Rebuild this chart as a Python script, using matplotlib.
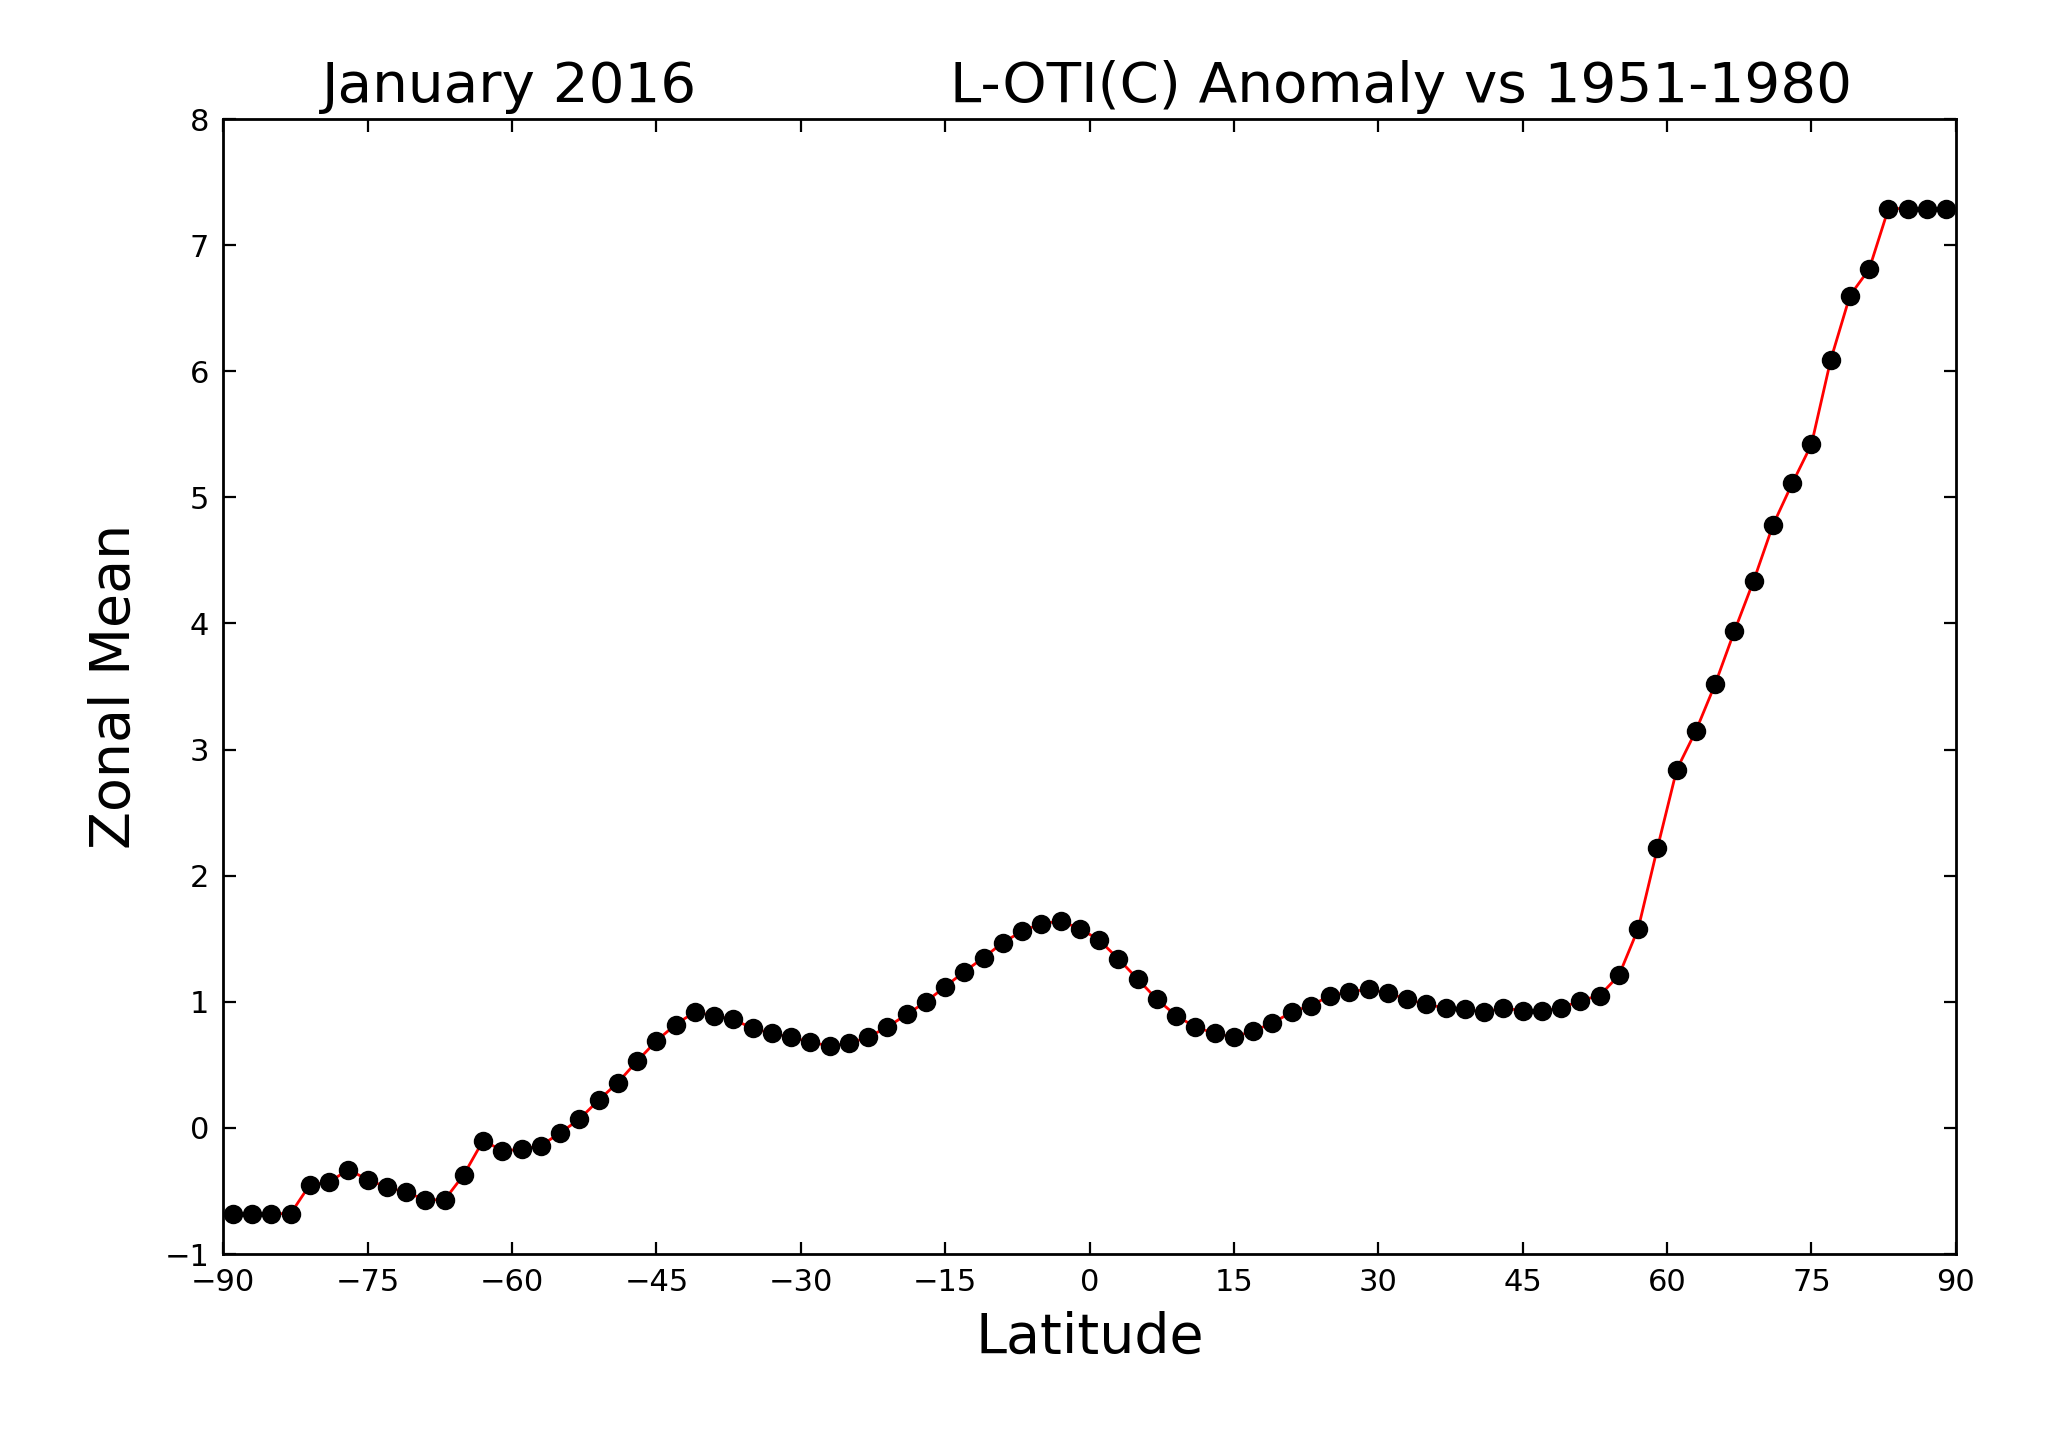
import numpy as np
import matplotlib
matplotlib.use('Agg')
import matplotlib.pyplot as plt

# latitudes of zonal band centres
lat = np.arange(-89, 90, 2)

# zonal mean anomaly
zonal_mean = [
    -0.68, -0.68, -0.68, -0.68, -0.45, -0.43, -0.33, -0.41, -0.47, -0.51,
    -0.57, -0.57, -0.37, -0.10, -0.18, -0.17, -0.14, -0.04, 0.07, 0.22,
    0.36, 0.53, 0.69, 0.82, 0.92, 0.89, 0.86, 0.79, 0.75, 0.72,
    0.68, 0.65, 0.67, 0.72, 0.80, 0.90, 1.00, 1.12, 1.24, 1.35,
    1.47, 1.56, 1.62, 1.64, 1.58, 1.49, 1.34, 1.18, 1.02, 0.89,
    0.80, 0.75, 0.72, 0.77, 0.83, 0.92, 0.97, 1.05, 1.08, 1.10,
    1.07, 1.02, 0.98, 0.95, 0.94, 0.92, 0.95, 0.93, 0.93, 0.95,
    1.01, 1.05, 1.21, 1.58, 2.22, 2.84, 3.15, 3.52, 3.94, 4.34,
    4.78, 5.11, 5.42, 6.09, 6.60, 6.81, 7.29, 7.29, 7.29, 7.29,
]

xticks = np.arange(-90, 91, 15)
yticks = np.arange(-1, 9, 1)

fig = plt.figure(figsize=(10.24, 7.17), dpi=200)
ax = fig.add_axes([0.109, 0.1255, 0.846, 0.7915])

ax.plot(lat, zonal_mean, color='red', linewidth=1, zorder=2)
ax.plot(lat, zonal_mean, 'o', color='black', markersize=6, zorder=3)

ax.set_xlim(-90, 90)
ax.set_ylim(-1, 8)
ax.set_xticks(xticks)
ax.set_yticks(yticks)
ax.tick_params(direction='in', top=True, right=True, length=4.5, width=0.8,
               labelsize=11, pad=5)
for s in ax.spines.values():
    s.set_linewidth(1.0)

ax.set_xlabel('Latitude', fontsize=20, labelpad=5)
ax.set_ylabel('Zonal Mean', fontsize=20, labelpad=8)

# two separate title pieces above the axes
ax.text(0.165, 1.004, 'January 2016', transform=ax.transAxes,
        ha='center', va='bottom', fontsize=20.3)
ax.text(0.68, 1.004, 'L-OTI(C) Anomaly vs 1951-1980', transform=ax.transAxes,
        ha='center', va='bottom', fontsize=20.3)

plt.savefig('out.png', dpi=200)
